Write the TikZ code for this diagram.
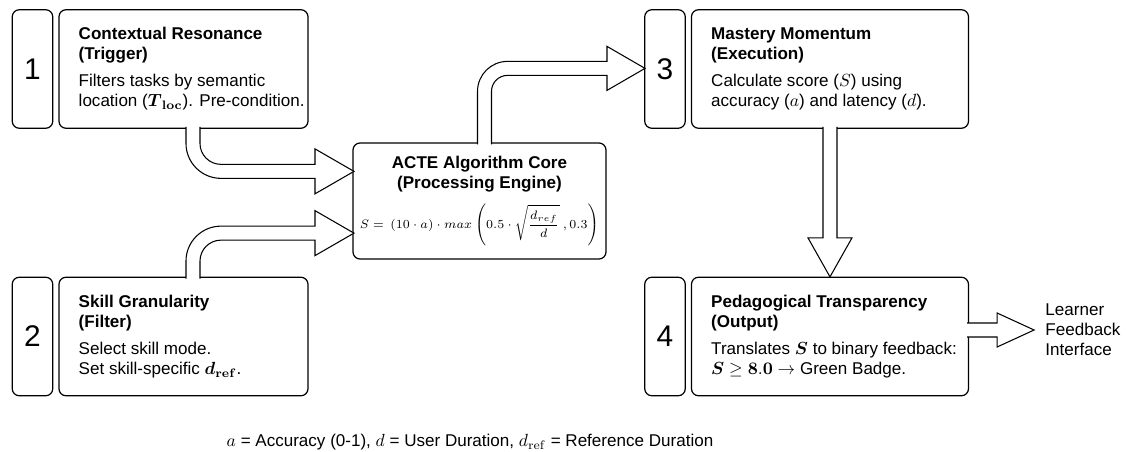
\documentclass[tikz,border=0pt]{standalone}
\usepackage{amsmath}
\usepackage[no-math]{fontspec}
\setmainfont{Liberation Sans}
\usepackage{tikz}
\usetikzlibrary{positioning}

\begin{document}
\begin{tikzpicture}[
    font=\fontsize{9.7}{11.4}\selectfont,
    numbox/.style={draw, rounded corners=4pt, line width=0.7pt, minimum width=0.81cm,
      minimum height=2.37cm, inner sep=0pt, font=\fontsize{17}{20}\selectfont},
    stepbox/.style={draw, rounded corners=4pt, line width=0.7pt, minimum height=2.37cm,
      inner sep=0pt},
    steptext/.style={align=left, inner sep=0pt, anchor=west},
    core/.style={draw, rounded corners=4pt, line width=0.7pt, minimum width=5.06cm,
      minimum height=2.32cm, align=center, inner sep=2pt},
    blockarrow/.style={draw, fill=white, line width=0.6pt, line join=miter}
  ]
    \useasboundingbox (0,0) rectangle (22.52,-9.04);

    % left column
    \node[numbox] (num1) at (0.65,-1.38) {1};
    \node[stepbox, minimum width=4.98cm, right=0.1cm of num1] (trigger) {};
    \node[steptext] (triggertext) at ([xshift=0.4cm]trigger.west)
      {\textbf{Contextual Resonance}\\ \textbf{(Trigger)}\\[4pt]
       Filters tasks by semantic\\
       location ($\boldsymbol{T}_{\mathbf{loc}}$). Pre-condition.};

    \node[numbox] (num2) at (0.65,-6.73) {2};
    \node[stepbox, minimum width=4.98cm, right=0.1cm of num2] (filter) {};
    \node[steptext] (filtertext) at ([xshift=0.4cm]filter.west)
      {\textbf{Skill Granularity}\\ \textbf{(Filter)}\\[4pt]
       Select skill mode.\\
       Set skill-specific $\boldsymbol{d}_{\mathbf{ref}}$.};

    % middle
    \node[core] (core) at (9.59,-4.02)
      {\textbf{ACTE Algorithm Core}\\ \textbf{(Processing Engine)}\\[6pt]
       {\fontsize{6.6}{8}\selectfont $\displaystyle S=\,(10\cdot a)\cdot max\left(0.5\cdot
       \sqrt{\frac{d_{ref}}{d}}\ ,0.3\right)$}};

    % right column
    \node[numbox] (num3) at (13.30,-1.38) {3};
    \node[stepbox, minimum width=5.54cm, right=0.1cm of num3] (execution) {};
    \node[steptext] (executiontext) at ([xshift=0.4cm]execution.west)
      {\textbf{Mastery Momentum}\\ \textbf{(Execution)}\\[4pt]
       Calculate score ($S$) using\\
       accuracy ($a$) and latency ($d$).};

    \node[numbox] (num4) at (13.30,-6.73) {4};
    \node[stepbox, minimum width=5.54cm, right=0.1cm of num4] (output) {};
    \node[steptext] (outputtext) at ([xshift=0.4cm]output.west)
      {\textbf{Pedagogical Transparency}\\ \textbf{(Output)}\\[4pt]
       Translates $\boldsymbol{S}$ to binary feedback:\\
       $\boldsymbol{S}\geq\mathbf{8.0}\rightarrow$ Green Badge.};

    % block arrows
    \draw[blockarrow] ([xshift=0.33cm,yshift=0.04cm]trigger.south) -- ++(0,-0.33)
      arc[start angle=180, end angle=270, radius=0.42cm] -- ++(1.88,0) -- ++(0,0.31)
      -- ++(0.78,-0.45) -- ++(-0.78,-0.45) -- ++(0,0.31) -- ++(-1.88,0)
      arc[start angle=270, end angle=180, radius=0.7cm] -- ++(0,0.33);
    \draw[blockarrow] ([xshift=0.05cm,yshift=-0.04cm]filter.north) -- ++(0,0.35)
      arc[start angle=180, end angle=90, radius=0.7cm] -- ++(1.88,0) -- ++(0,0.31)
      -- ++(0.78,-0.45) -- ++(-0.78,-0.45) -- ++(0,0.31) -- ++(-1.88,0)
      arc[start angle=90, end angle=180, radius=0.42cm] -- ++(0,-0.35);
    \draw[blockarrow] ([xshift=-0.04cm,yshift=-0.04cm]core.north) -- ++(0,1.06)
      arc[start angle=180, end angle=90, radius=0.6cm] -- ++(1.99,0) -- ++(0,0.3)
      -- ++(0.76,-0.44) -- ++(-0.76,-0.44) -- ++(0,0.3) -- ++(-1.99,0)
      arc[start angle=90, end angle=180, radius=0.32cm] -- ++(0,-1.06);
    \draw[blockarrow] ([xshift=-0.14cm,yshift=0.04cm]execution.south) -- ++(0,-2.22)
      -- ++(-0.3,0) -- ++(0.44,-0.78) -- ++(0.44,0.78) -- ++(-0.3,0) -- ++(0,2.22);
    \draw[blockarrow] ([xshift=-0.04cm,yshift=0.27cm]output.east) -- ++(0.6,0)
      -- ++(0,0.2) -- ++(0.74,-0.34) coordinate (feedtip) -- ++(-0.74,-0.34)
      -- ++(0,0.2) -- ++(-0.6,0);

    \node[align=left, inner sep=0pt, right=0.22cm of feedtip] (learner)
      {Learner\\Feedback\\Interface};

    \node (legend) at (9.40,-8.84)
      {$a$ = Accuracy (0-1), $d$ = User Duration, $d_{\mathrm{ref}}$ = Reference Duration};
  \end{tikzpicture}
\end{document}
